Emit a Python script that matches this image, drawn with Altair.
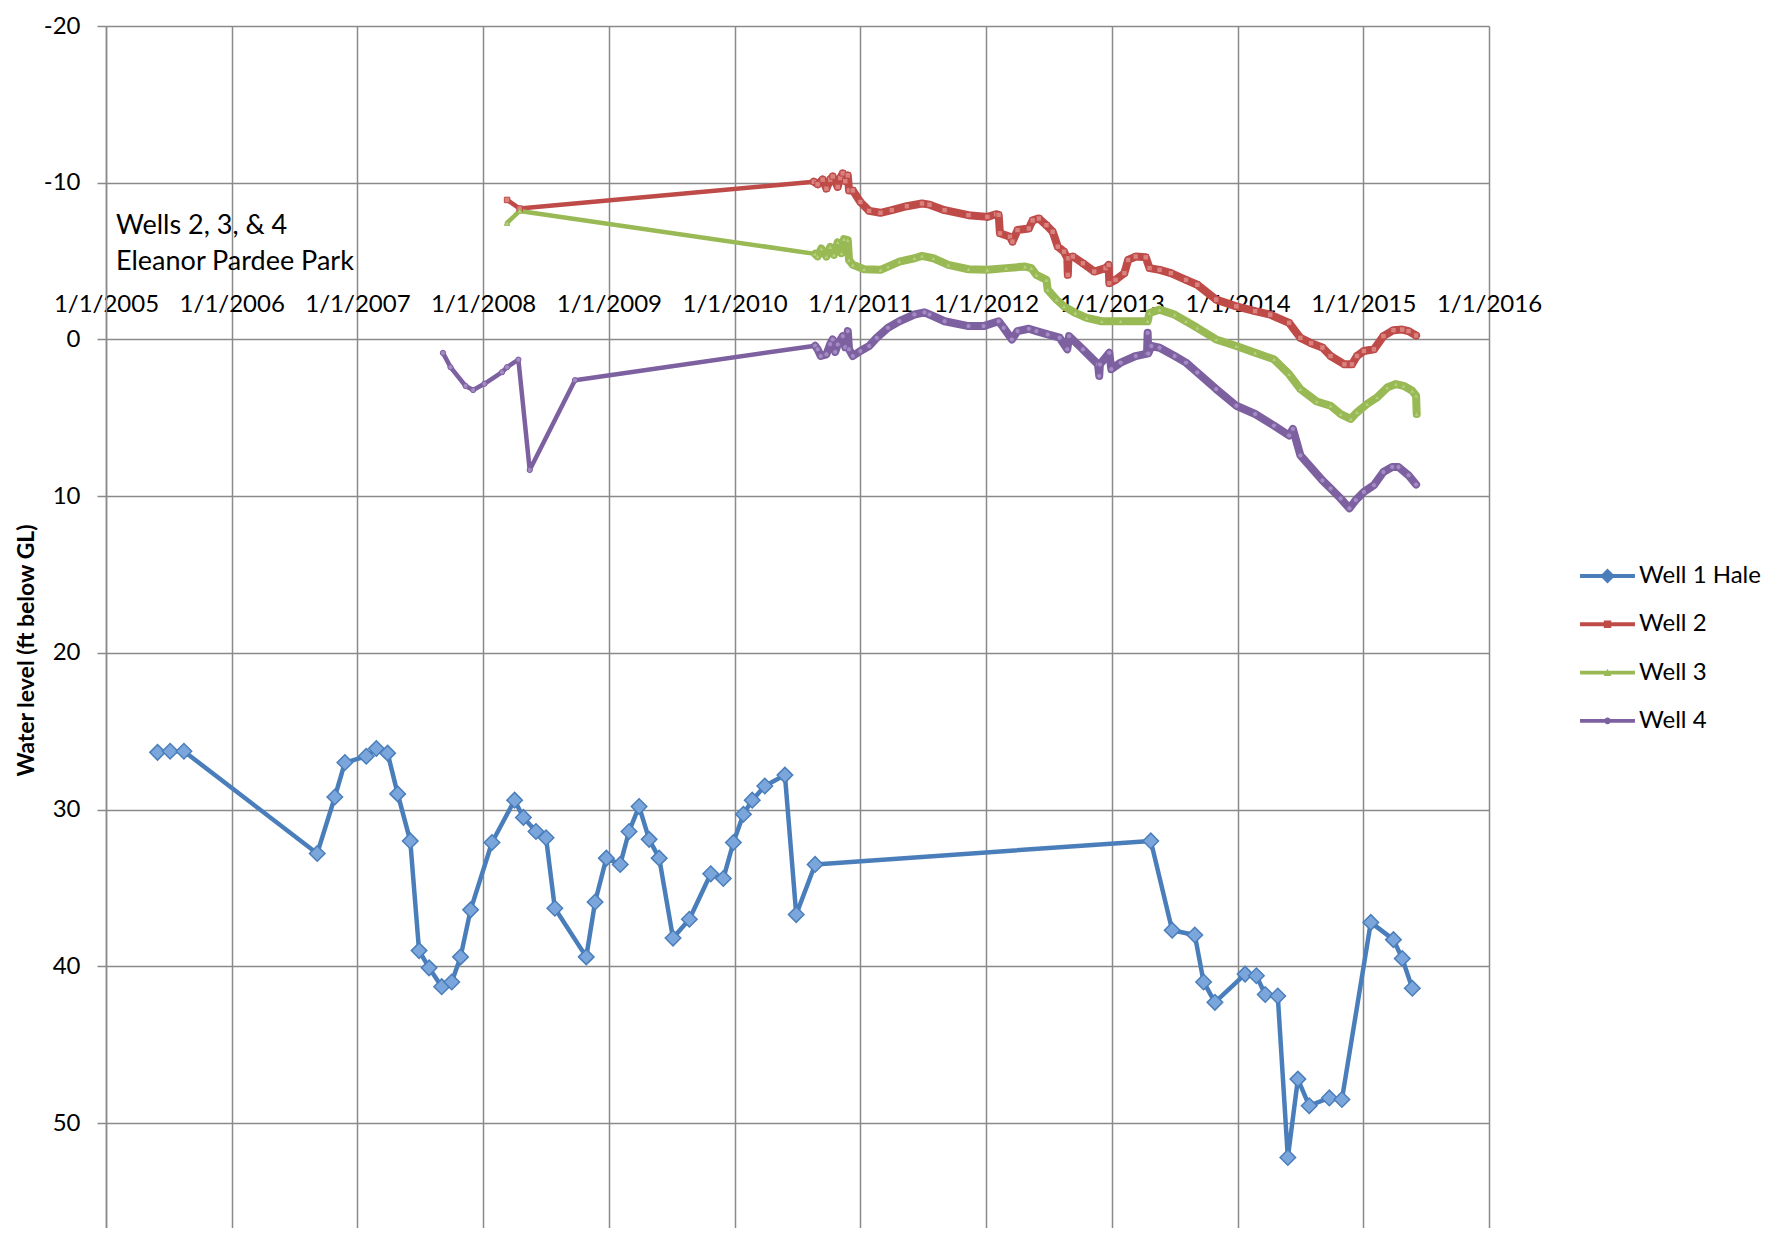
import altair as alt
import pandas as pd

SERIES = ["Well 1 Hale", "Well 2", "Well 3", "Well 4"]
COLORS = ["#4A7EBB", "#BE4B48", "#98B954", "#7D60A0"]
YEAR_TICKS = list(range(2005, 2017))
LEVEL_TICKS = [-20, -10, 0, 10, 20, 30, 40, 50]
ANNOTATION = ["Wells 2, 3, & 4", "Eleanor Pardee Park"]
Y_TITLE = "Water level (ft below GL)"

HALE_YEAR = [2005.41, 2005.51, 2005.62, 2006.68, 2006.82, 2006.90, 2007.07, 2007.15, 2007.24, 2007.32,
             2007.42, 2007.49, 2007.57, 2007.67, 2007.75, 2007.82, 2007.90, 2008.07, 2008.25, 2008.32,
             2008.42, 2008.50, 2008.57, 2008.82, 2008.89, 2008.98, 2009.09, 2009.16, 2009.24, 2009.32,
             2009.40, 2009.51, 2009.64, 2009.81, 2009.91, 2009.99, 2010.07, 2010.14, 2010.24, 2010.40,
             2010.49, 2010.64, 2013.31, 2013.48, 2013.66, 2013.73, 2013.82, 2014.06, 2014.15, 2014.22,
             2014.32, 2014.40, 2014.48, 2014.57, 2014.73, 2014.83, 2015.06, 2015.24, 2015.31, 2015.39]
HALE_LEVEL = [26.35, 26.28, 26.28, 32.8, 29.2, 27.0, 26.6, 26.1, 26.4, 29.0,
              32.0, 39.0, 40.1, 41.3, 41.0, 39.4, 36.4, 32.1, 29.4, 30.5,
              31.4, 31.8, 36.3, 39.4, 35.9, 33.1, 33.5, 31.4, 29.8, 31.9,
              33.1, 38.2, 37.0, 34.1, 34.4, 32.1, 30.3, 29.4, 28.5, 27.8,
              36.7, 33.5, 32.0, 37.7, 38.0, 41.0, 42.3, 40.5, 40.6, 41.8,
              41.9, 52.2, 47.2, 48.9, 48.4, 48.5, 37.2, 38.3, 39.5, 41.4]

W2_YEAR = [2008.19, 2008.29, 2010.63, 2010.66, 2010.70, 2010.73, 2010.76, 2010.78, 2010.82, 2010.84,
           2010.86, 2010.88, 2010.90, 2010.91, 2010.94, 2011.00, 2011.07, 2011.16, 2011.25, 2011.37,
           2011.49, 2011.55, 2011.67, 2011.86, 2012.01, 2012.08, 2012.10, 2012.11, 2012.19, 2012.21,
           2012.25, 2012.34, 2012.37, 2012.42, 2012.48, 2012.53, 2012.57, 2012.62, 2012.646, 2012.65,
           2012.655, 2012.69, 2012.77, 2012.86, 2012.95, 2012.975, 2012.98, 2013.03, 2013.10, 2013.13,
           2013.19, 2013.27, 2013.30, 2013.38, 2013.47, 2013.59, 2013.68, 2013.83, 2013.99, 2014.14,
           2014.26, 2014.41, 2014.50, 2014.585, 2014.675, 2014.74, 2014.85, 2014.91, 2014.95, 2015.005,
           2015.085, 2015.16, 2015.24, 2015.31, 2015.36, 2015.42]
W2_LEVEL = [-8.90, -8.35, -10.06, -9.9, -10.2, -9.62, -10.2, -10.4, -9.73, -10.3,
            -10.6, -10.1, -10.47, -9.51, -9.51, -8.77, -8.20, -8.08, -8.25, -8.50,
            -8.67, -8.60, -8.25, -7.93, -7.82, -7.99, -7.95, -6.77, -6.55, -6.24,
            -6.98, -7.08, -7.60, -7.72, -7.29, -6.87, -5.92, -5.60, -5.18, -4.12,
            -5.18, -5.29, -4.86, -4.33, -4.55, -4.75, -3.59, -3.80, -4.23, -5.07,
            -5.29, -5.24, -4.55, -4.44, -4.23, -3.80, -3.49, -2.54, -2.11, -1.80,
            -1.58, -1.06, -0.10, 0.24, 0.52, 1.06, 1.59, 1.59, 1.06, 0.74,
            0.63, -0.21, -0.59, -0.63, -0.53, -0.25]

W3_YEAR = [2008.19, 2008.29, 2010.64, 2010.66, 2010.69, 2010.73, 2010.76, 2010.79, 2010.82, 2010.85,
           2010.87, 2010.90, 2010.91, 2010.94, 2011.03, 2011.16, 2011.22, 2011.31, 2011.43, 2011.49,
           2011.58, 2011.70, 2011.86, 2012.01, 2012.16, 2012.31, 2012.36, 2012.40, 2012.48, 2012.49,
           2012.56, 2012.62, 2012.71, 2012.80, 2012.92, 2013.07, 2013.285, 2013.30, 2013.38, 2013.50,
           2013.59, 2013.68, 2013.83, 2013.99, 2014.14, 2014.29, 2014.41, 2014.50, 2014.63, 2014.74,
           2014.82, 2014.90, 2014.95, 2015.03, 2015.11, 2015.19, 2015.26, 2015.32, 2015.39, 2015.42,
           2015.425]
W3_LEVEL = [-7.43, -8.20, -5.46, -5.3, -5.8, -5.29, -5.9, -5.4, -6.2, -5.5,
            -6.4, -6.34, -5.07, -4.76, -4.48, -4.44, -4.65, -4.97, -5.18, -5.33,
            -5.18, -4.76, -4.48, -4.44, -4.55, -4.65, -4.55, -4.12, -3.80, -3.17,
            -2.54, -2.11, -1.69, -1.37, -1.16, -1.16, -1.16, -1.69, -1.90, -1.58,
            -1.16, -0.74, 0.00, 0.42, 0.85, 1.27, 2.22, 3.17, 3.96, 4.23,
            4.76, 5.07, 4.65, 4.12, 3.70, 3.07, 2.85, 2.96, 3.28, 3.59,
            4.76]

W4_YEAR = [2007.68, 2007.74, 2007.86, 2007.92, 2008.01, 2008.15, 2008.19, 2008.28, 2008.37, 2008.73,
           2010.64, 2010.66, 2010.685, 2010.73, 2010.76, 2010.78, 2010.80, 2010.82, 2010.86, 2010.88,
           2010.90, 2010.91, 2010.94, 2011.00, 2011.07, 2011.13, 2011.22, 2011.31, 2011.43, 2011.51,
           2011.55, 2011.67, 2011.86, 2011.98, 2012.10, 2012.14, 2012.205, 2012.25, 2012.34, 2012.40,
           2012.49, 2012.585, 2012.646, 2012.66, 2012.77, 2012.89, 2012.90, 2012.905, 2012.98, 2012.996,
           2013.07, 2013.19, 2013.28, 2013.285, 2013.29, 2013.315, 2013.38, 2013.50, 2013.59, 2013.68,
           2013.83, 2013.99, 2014.14, 2014.29, 2014.41, 2014.44, 2014.50, 2014.675, 2014.74, 2014.82,
           2014.89, 2014.94, 2015.005, 2015.085, 2015.16, 2015.23, 2015.28, 2015.36, 2015.42]
W4_LEVEL = [0.86, 1.77, 2.97, 3.23, 2.83, 2.09, 1.77, 1.29, 8.33, 2.60,
            0.40, 0.63, 1.06, 0.95, 0.3, 0.00, 0.8, 0.32, -0.21, 0.5,
            -0.53, 0.63, 1.06, 0.74, 0.42, -0.11, -0.74, -1.16, -1.59, -1.73,
            -1.59, -1.16, -0.85, -0.85, -1.16, -0.74, 0.00, -0.53, -0.68, -0.53,
            -0.32, -0.11, 0.63, -0.21, 0.63, 1.59, 2.33, 1.6, 0.85, 1.90,
            1.48, 1.06, 0.9, -0.42, 0.9, 0.42, 0.53, 1.06, 1.48, 2.11,
            3.17, 4.23, 4.76, 5.50, 6.13, 5.71, 7.40, 9.0, 9.51, 10.15,
            10.78, 10.25, 9.73, 9.30, 8.46, 8.14, 8.14, 8.67, 9.26]

# legend symbols: a line with the series marker in its middle (unit square scaled)
LINE_PATH = "M-1.83,-0.13L1.83,-0.13L1.83,0.13L-1.83,0.13Z"
LEGEND_PATHS = [
    LINE_PATH + "M0,-0.5L0.5,0L0,0.5L-0.5,0Z",
    LINE_PATH + "M-0.25,-0.25L0.25,-0.25L0.25,0.25L-0.25,0.25Z",
    LINE_PATH + "M0,-0.26L0.26,0.22L-0.26,0.22Z",
    LINE_PATH + "M-0.22,0A0.22,0.22 0 1,1 0.22,0A0.22,0.22 0 1,1 -0.22,0Z",
]

frames = []
for name, yrs, lv in [(SERIES[0], HALE_YEAR, HALE_LEVEL), (SERIES[1], W2_YEAR, W2_LEVEL),
                      (SERIES[2], W3_YEAR, W3_LEVEL), (SERIES[3], W4_YEAR, W4_LEVEL)]:
    frames.append(pd.DataFrame({"series": name, "year": yrs, "level": lv, "idx": range(len(yrs))}))
df = pd.concat(frames, ignore_index=True)

GRID = "#8a8a8a"
FONT = "Lato"

x_scale = alt.Scale(domain=[2005, 2016], nice=False, zero=False)
y_scale = alt.Scale(domain=[-20, 56.7], reverse=True, nice=False, zero=False)
color_scale = alt.Scale(domain=SERIES, range=COLORS)

x_grid_axis = alt.Axis(orient="bottom", values=YEAR_TICKS, grid=True, gridColor=GRID, gridWidth=1.5,
                       labels=False, ticks=False, domain=False, title=None)
x_label_axis = alt.Axis(orient="top", offset=-313.4, values=YEAR_TICKS, grid=False, ticks=False,
                        domain=False, labelExpr="'1/1/' + datum.value", labelPadding=35,
                        labelBaseline="middle", labelFont=FONT, labelFontSize=24, labelColor="#000",
                        labelFlush=False, labelOverlap=False, title=None)
y_axis = alt.Axis(values=LEVEL_TICKS, grid=True, gridColor=GRID, gridWidth=1.5, domainColor=GRID,
                  domainWidth=1.5, tickColor=GRID, tickWidth=1.5, tickSize=9, labelFont=FONT,
                  labelFontSize=24, labelColor="#000", labelPadding=17, labelExpr="datum.value + ''",
                  title=Y_TITLE, titleFont=FONT, titleFontSize=23, titleFontWeight="bold",
                  titleColor="#000", titleAngle=270, titleX=-80, titleY=624, titleAlign="center",
                  titleBaseline="middle")

leg = alt.Legend(title=None, orient="none", legendX=1486.5, legendY=535, padding=0, rowPadding=21.3,
                 symbolSize=900, symbolStrokeWidth=0, labelOffset=16.5, labelFont=FONT,
                 labelFontSize=24, labelColor="#000", labelLimit=400, symbolOpacity=1)

base = alt.Chart(df)

lines = base.mark_line(strokeWidth=4.5, strokeJoin="round", strokeCap="round").encode(
    x=alt.X("year:Q", scale=x_scale, axis=x_grid_axis),
    y=alt.Y("level:Q", scale=y_scale, axis=y_axis),
    color=alt.Color("series:N", scale=color_scale, legend=leg),
    detail="series:N",
    order="idx:Q",
)

dense = base.transform_filter(
    "datum.series != 'Well 1 Hale' && datum.year >= 2010.6"
).mark_line(strokeWidth=8, strokeJoin="round", strokeCap="round").encode(
    x=alt.X("year:Q", scale=x_scale, axis=x_label_axis),
    y=alt.Y("level:Q", scale=y_scale),
    color=alt.Color("series:N", scale=color_scale, legend=leg),
    detail="series:N",
    order="idx:Q",
)

def pts(name, shape, size, fill, stroke, sw):
    return alt.Chart(df[df.series == name]).mark_point(
        shape=shape, size=size, filled=True, fill=fill, stroke=stroke, strokeWidth=sw, opacity=1
    ).encode(
        x=alt.X("year:Q", scale=x_scale, axis=None),
        y=alt.Y("level:Q", scale=y_scale),
    )

p1 = pts(SERIES[0], "diamond", 240, "#7BA6DC", "#4A7EBB", 1.5)
p2 = pts(SERIES[1], "square", 30, "#D9827F", "#BE4B48", 1)
p3 = pts(SERIES[2], "triangle-up", 30, "#B5D17F", "#98B954", 1)
p4 = pts(SERIES[3], "circle", 28, "#A48BC4", "#7D60A0", 1)

legend_layer = alt.Chart(pd.DataFrame({"series": SERIES})).transform_filter("false").mark_point(
    filled=True, opacity=1
).encode(
    color=alt.Color("series:N", scale=color_scale, legend=leg),
    shape=alt.Shape("series:N", scale=alt.Scale(domain=SERIES, range=LEGEND_PATHS), legend=leg),
)

ann_df = pd.DataFrame({"t": ANNOTATION})
ann1 = alt.Chart(ann_df.iloc[[0]]).mark_text(align="left", baseline="middle", font=FONT, fontSize=27,
                                              color="#000").encode(
    text="t:N", x=alt.value(10), y=alt.value(200))
ann2 = alt.Chart(ann_df.iloc[[1]]).mark_text(align="left", baseline="middle", font=FONT, fontSize=27,
                                              color="#000").encode(
    text="t:N", x=alt.value(10), y=alt.value(236))

chart = alt.layer(lines, dense, p1, p2, p3, p4, legend_layer, ann1, ann2).resolve_axis(
    x="independent"
).properties(
    width=1383, height=1202,
    padding={"left": 98, "top": 18, "right": 275, "bottom": 0},
    autosize=alt.AutoSizeParams(type="none"),
).configure_view(stroke=None).configure(background="white")

chart.save("out.html", embed_options={"renderer": "svg", "actions": False})
